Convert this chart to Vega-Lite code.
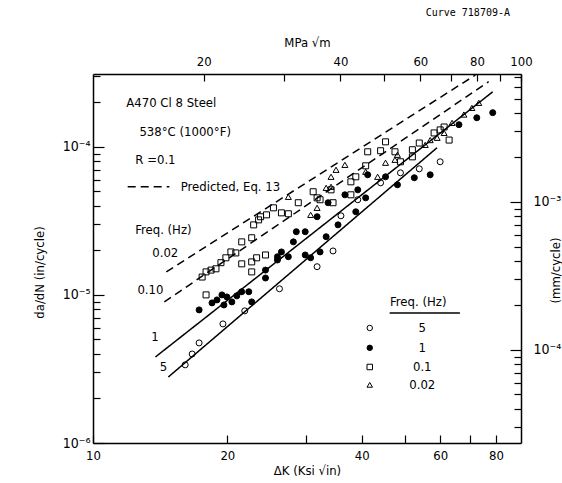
{
  "$schema": "https://vega.github.io/schema/vega-lite/v6.json",
  "width": 428,
  "height": 369,
  "autosize": "none",
  "padding": {"left": 93, "top": 74, "right": 41, "bottom": 40},
  "background": "white",
  "title": {"text": "Curve 718709-A", "anchor": "end", "frame": "group", "font": "DejaVu Sans Mono", "fontSize": 10, "fontWeight": "normal", "color": "black", "dx": -11, "offset": 18},
  "config": {
    "view": {"stroke": null},
    "axis": {"domainColor": "black", "domainWidth": 1.5, "tickColor": "black", "tickWidth": 1.2, "labelColor": "black", "titleColor": "black", "labelFont": "DejaVu Sans Condensed, Liberation Sans, sans-serif", "titleFont": "DejaVu Sans Condensed, Liberation Sans, sans-serif", "labelFontSize": 13, "titleFontSize": 13, "titleFontWeight": "normal", "grid": false, "labelFlush": false, "labelOverlap": false},
    "text": {"font": "DejaVu Sans Condensed, Liberation Sans, sans-serif", "fontSize": 13, "color": "black"}
  },
  "datasets": {
    "pts": [
      {"s": "5", "k": 16.09, "v": 3.37e-6}, {"s": "5", "k": 16.68, "v": 3.99e-6}, {"s": "5", "k": 17.29, "v": 4.74e-6}, {"s": "5", "k": 19.55, "v": 6.37e-6}, {"s": "5", "k": 21.88, "v": 7.8e-6}, {"s": "5", "k": 26.17, "v": 1.1e-5}, {"s": "5", "k": 31.78, "v": 1.55e-5}, {"s": "5", "k": 34.5, "v": 1.98e-5}, {"s": "5", "k": 35.94, "v": 3.42e-5}, {"s": "5", "k": 39.2, "v": 4.39e-5}, {"s": "5", "k": 44.1, "v": 5.71e-5}, {"s": "5", "k": 48.86, "v": 6.67e-5}, {"s": "5", "k": 53.84, "v": 7.1e-5}, {"s": "5", "k": 59.96, "v": 7.92e-5},
      {"s": "1", "k": 17.29, "v": 7.92e-6}, {"s": "1", "k": 18.48, "v": 8.83e-6}, {"s": "1", "k": 18.96, "v": 9.25e-6}, {"s": "1", "k": 19.45, "v": 1.0e-5}, {"s": "1", "k": 19.95, "v": 9.69e-6}, {"s": "1", "k": 20.47, "v": 8.97e-6}, {"s": "1", "k": 21.0, "v": 9.85e-6}, {"s": "1", "k": 21.54, "v": 1.05e-5}, {"s": "1", "k": 22.34, "v": 1.05e-5}, {"s": "1", "k": 19.65, "v": 8.55e-6}, {"s": "1", "k": 22.68, "v": 8.97e-6}, {"s": "1", "k": 24.35, "v": 1.3e-5}, {"s": "1", "k": 24.35, "v": 1.47e-5}, {"s": "1", "k": 25.9, "v": 1.81e-5}, {"s": "1", "k": 27.4, "v": 1.81e-5}, {"s": "1", "k": 29.89, "v": 1.86e-5}, {"s": "1", "k": 30.74, "v": 1.78e-5}, {"s": "1", "k": 32.27, "v": 1.95e-5}, {"s": "1", "k": 26.44, "v": 1.95e-5}, {"s": "1", "k": 25.9, "v": 1.72e-5}, {"s": "1", "k": 28.12, "v": 2.28e-5}, {"s": "1", "k": 28.55, "v": 2.67e-5}, {"s": "1", "k": 29.89, "v": 2.67e-5}, {"s": "1", "k": 31.78, "v": 3.37e-5}, {"s": "1", "k": 33.63, "v": 4.19e-5}, {"s": "1", "k": 33.3, "v": 2.47e-5}, {"s": "1", "k": 35.4, "v": 2.97e-5}, {"s": "1", "k": 38.8, "v": 3.64e-5}, {"s": "1", "k": 40.83, "v": 4.52e-5}, {"s": "1", "k": 36.68, "v": 4.74e-5}, {"s": "1", "k": 39.2, "v": 5.12e-5}, {"s": "1", "k": 41.26, "v": 6.47e-5}, {"s": "1", "k": 45.24, "v": 6.27e-5}, {"s": "1", "k": 48.11, "v": 5.54e-5}, {"s": "1", "k": 52.48, "v": 6.18e-5}, {"s": "1", "k": 56.96, "v": 6.47e-5}, {"s": "1", "k": 66.07, "v": 1.41e-4}, {"s": "1", "k": 72.44, "v": 1.57e-4}, {"s": "1", "k": 78.64, "v": 1.7e-4},
      {"s": "0.1", "k": 17.92, "v": 1.0e-5}, {"s": "0.1", "k": 17.56, "v": 1.32e-5}, {"s": "0.1", "k": 17.92, "v": 1.43e-5}, {"s": "0.1", "k": 18.39, "v": 1.47e-5}, {"s": "0.1", "k": 18.86, "v": 1.5e-5}, {"s": "0.1", "k": 19.35, "v": 1.65e-5}, {"s": "0.1", "k": 19.85, "v": 1.78e-5}, {"s": "0.1", "k": 20.37, "v": 1.95e-5}, {"s": "0.1", "k": 20.89, "v": 1.92e-5}, {"s": "0.1", "k": 21.54, "v": 2.28e-5}, {"s": "0.1", "k": 22.68, "v": 2.43e-5}, {"s": "0.1", "k": 22.91, "v": 2.97e-5}, {"s": "0.1", "k": 23.5, "v": 3.21e-5}, {"s": "0.1", "k": 23.74, "v": 3.37e-5}, {"s": "0.1", "k": 24.48, "v": 3.47e-5}, {"s": "0.1", "k": 25.37, "v": 3.87e-5}, {"s": "0.1", "k": 26.44, "v": 3.58e-5}, {"s": "0.1", "k": 27.4, "v": 3.53e-5}, {"s": "0.1", "k": 31.14, "v": 4.97e-5}, {"s": "0.1", "k": 31.78, "v": 4.52e-5}, {"s": "0.1", "k": 21.54, "v": 1.62e-5}, {"s": "0.1", "k": 22.68, "v": 1.67e-5}, {"s": "0.1", "k": 22.68, "v": 1.43e-5}, {"s": "0.1", "k": 23.26, "v": 1.78e-5}, {"s": "0.1", "k": 24.35, "v": 1.86e-5}, {"s": "0.1", "k": 28.84, "v": 4.19e-5}, {"s": "0.1", "k": 32.27, "v": 4.39e-5}, {"s": "0.1", "k": 34.15, "v": 5.12e-5}, {"s": "0.1", "k": 34.5, "v": 4.19e-5}, {"s": "0.1", "k": 37.83, "v": 5.8e-5}, {"s": "0.1", "k": 37.83, "v": 4.74e-5}, {"s": "0.1", "k": 38.8, "v": 6.27e-5}, {"s": "0.1", "k": 40.83, "v": 7.44e-5}, {"s": "0.1", "k": 41.26, "v": 9.25e-5}, {"s": "0.1", "k": 44.1, "v": 9.4e-5}, {"s": "0.1", "k": 45.24, "v": 1.08e-4}, {"s": "0.1", "k": 47.5, "v": 9.25e-5}, {"s": "0.1", "k": 51.96, "v": 9.55e-5}, {"s": "0.1", "k": 51.96, "v": 8.55e-5}, {"s": "0.1", "k": 48.86, "v": 7.92e-5}, {"s": "0.1", "k": 53.84, "v": 1.06e-4}, {"s": "0.1", "k": 58.13, "v": 1.24e-4}, {"s": "0.1", "k": 59.96, "v": 1.3e-4}, {"s": "0.1", "k": 61.2, "v": 1.36e-4}, {"s": "0.1", "k": 62.8, "v": 1.11e-4},
      {"s": "0.02", "k": 27.4, "v": 4.59e-5}, {"s": "0.02", "k": 30.74, "v": 3.47e-5}, {"s": "0.02", "k": 31.78, "v": 3.87e-5}, {"s": "0.02", "k": 33.3, "v": 5.28e-5}, {"s": "0.02", "k": 34.15, "v": 5.37e-5}, {"s": "0.02", "k": 34.15, "v": 6.27e-5}, {"s": "0.02", "k": 35.04, "v": 6.99e-5}, {"s": "0.02", "k": 36.68, "v": 7.55e-5}, {"s": "0.02", "k": 40.83, "v": 6.78e-5}, {"s": "0.02", "k": 43.43, "v": 6.27e-5}, {"s": "0.02", "k": 45.24, "v": 7.8e-5}, {"s": "0.02", "k": 47.5, "v": 8.17e-5}, {"s": "0.02", "k": 48.11, "v": 8.83e-5}, {"s": "0.02", "k": 55.52, "v": 1.03e-4}, {"s": "0.02", "k": 56.96, "v": 1.11e-4}, {"s": "0.02", "k": 59.04, "v": 1.15e-4}, {"s": "0.02", "k": 61.2, "v": 1.24e-4}, {"s": "0.02", "k": 63.77, "v": 1.45e-4}, {"s": "0.02", "k": 67.78, "v": 1.65e-4}, {"s": "0.02", "k": 70.63, "v": 1.83e-4}, {"s": "0.02", "k": 73.19, "v": 1.98e-4}
    ],
    "lines": [
      {"id": "f1", "kind": "fit", "k": 13.8, "v": 3.81e-6}, {"id": "f1", "kind": "fit", "k": 78.64, "v": 2.35e-4},
      {"id": "f5", "kind": "fit", "k": 14.75, "v": 2.79e-6}, {"id": "f5", "kind": "fit", "k": 59.0, "v": 9.85e-5},
      {"id": "p02", "kind": "predicted", "k": 14.6, "v": 1.43e-5}, {"id": "p02", "kind": "predicted", "k": 71.9, "v": 3.05e-4},
      {"id": "p10", "kind": "predicted", "k": 14.45, "v": 8.97e-6}, {"id": "p10", "kind": "predicted", "k": 77.0, "v": 2.75e-4},
      {"id": "key", "kind": "predicted", "k": 11.96, "v": 5.37e-5}, {"id": "key", "kind": "predicted", "k": 14.83, "v": 5.37e-5},
      {"id": "under", "kind": "fit", "k": 46.2, "v": 7.56e-6}, {"id": "under", "kind": "fit", "k": 66.4, "v": 7.56e-6}
    ],
    "notes": [
      {"t": "A470 Cl 8 Steel", "k": 14.98, "v": 1.98e-4},
      {"t": "538°C (1000°F)", "k": 16.09, "v": 1.26e-4},
      {"t": "R =0.1", "k": 13.8, "v": 8.17e-5},
      {"t": "Predicted, Eq. 13", "k": 20.32, "v": 5.37e-5},
      {"t": "Freq. (Hz)", "k": 14.38, "v": 2.75e-5},
      {"t": "0.02", "k": 14.52, "v": 1.92e-5},
      {"t": "0.10", "k": 13.45, "v": 1.08e-5},
      {"t": "1", "k": 13.77, "v": 5.2e-6},
      {"t": "5", "k": 14.38, "v": 3.26e-6},
      {"t": "Freq. (Hz)", "k": 53.56, "v": 8.97e-6},
      {"t": "5", "k": 54.67, "v": 5.98e-6},
      {"t": "1", "k": 54.67, "v": 4.39e-6},
      {"t": "0.1", "k": 54.67, "v": 3.26e-6},
      {"t": "0.02", "k": 54.67, "v": 2.47e-6}
    ],
    "leg": [
      {"s": "5", "k": 41.7, "v": 5.98e-6},
      {"s": "1", "k": 41.7, "v": 4.39e-6},
      {"s": "0.1", "k": 41.7, "v": 3.26e-6},
      {"s": "0.02", "k": 41.7, "v": 2.47e-6}
    ],
    "sec": [{"mpa": 50, "mm": 0.001}]
  },
  "layer": [
    {
      "encoding": {
        "x": {"field": "k", "type": "quantitative",
          "scale": {"type": "log", "domain": [10, 91]},
          "axis": {"orient": "bottom", "title": "ΔK (Ksi √in)", "values": [10, 20, 30, 40, 50, 60, 70, 80],
            "labelExpr": "indexof([10,20,40,60,80], datum.value) >= 0 ? datum.label : ''",
            "tickSize": -8, "labelPadding": 14, "titlePadding": 2}},
        "y": {"field": "v", "type": "quantitative",
          "scale": {"type": "log", "domain": [1e-6, 3.1e-4]},
          "axis": {"orient": "left", "title": "da/dN (in/cycle)",
            "values": [1e-6, 2e-6, 3e-6, 4e-6, 5e-6, 6e-6, 7e-6, 8e-6, 9e-6, 1e-5, 2e-5, 3e-5, 4e-5, 5e-5, 6e-5, 7e-5, 8e-5, 9e-5, 1e-4, 2e-4, 3e-4],
            "labelExpr": "abs(log(datum.value)/LN10 - round(log(datum.value)/LN10)) > 0.01 ? '' : datum.value < 5e-6 ? '10⁻⁶' : datum.value < 5e-5 ? '10⁻⁵' : '10⁻⁴'",
            "labelFontSize": 14,
            "tickSize": {"condition": {"test": "abs(log(datum.value)/LN10 - round(log(datum.value)/LN10)) < 0.01", "value": -11}, "value": -7},
            "labelPadding": 14, "titlePadding": 16, "titleY": 198}}
      },
      "layer": [
        {"data": {"name": "lines"}, "mark": {"type": "line", "color": "black", "strokeWidth": 1.5, "clip": true},
          "encoding": {"detail": {"field": "id"}, "strokeDash": {"field": "kind", "type": "nominal", "scale": {"domain": ["fit", "predicted"], "range": [[1, 0], [8, 5]]}, "legend": null}}},
        {"data": {"name": "pts"}, "mark": {"type": "point", "filled": true, "opacity": 1, "stroke": "black", "strokeWidth": 1, "size": 36},
          "encoding": {
            "shape": {"field": "s", "type": "nominal", "scale": {"domain": ["5", "1", "0.1", "0.02"], "range": ["circle", "circle", "square", "triangle-up"]}, "legend": null},
            "fill": {"field": "s", "type": "nominal", "scale": {"domain": ["5", "1", "0.1", "0.02"], "range": ["rgba(0,0,0,0)", "black", "rgba(0,0,0,0)", "rgba(0,0,0,0)"]}, "legend": null}}},
        {"data": {"name": "leg"}, "mark": {"type": "point", "filled": true, "opacity": 1, "stroke": "black", "strokeWidth": 1, "size": 30},
          "encoding": {
            "shape": {"field": "s", "type": "nominal", "legend": null},
            "fill": {"field": "s", "type": "nominal", "legend": null}}},
        {"data": {"name": "notes"}, "mark": {"type": "text", "align": "center", "baseline": "middle"},
          "encoding": {"text": {"field": "t"}}}
      ]
    },
    {
      "data": {"name": "sec"},
      "mark": {"type": "point", "opacity": 0},
      "encoding": {
        "x": {"field": "mpa", "type": "quantitative", "scale": {"type": "log", "domain": [11.4, 100]},
          "axis": {"orient": "top", "title": "MPa √m", "values": [20, 30, 40, 50, 60, 70, 80, 90, 100],
            "labelExpr": "indexof([20,40,60,80,100], datum.value) >= 0 ? datum.label : ''",
            "tickSize": -7, "labelPadding": 13, "titlePadding": 6}},
        "y": {"field": "mm", "type": "quantitative", "scale": {"type": "log", "domain": [2.35e-5, 7.33e-3]},
          "axis": {"orient": "right", "title": "(mm/cycle)", "titleAngle": -90,
            "values": [3e-5, 4e-5, 5e-5, 6e-5, 7e-5, 8e-5, 9e-5, 1e-4, 2e-4, 3e-4, 4e-4, 5e-4, 6e-4, 7e-4, 8e-4, 9e-4, 1e-3, 2e-3, 3e-3, 4e-3, 5e-3, 6e-3, 7e-3],
            "labelExpr": "abs(log(datum.value)/LN10 - round(log(datum.value)/LN10)) > 0.01 ? '' : datum.value < 5e-4 ? '10⁻⁴' : '10⁻³'",
            "labelFontSize": 14,
            "tickSize": {"condition": {"test": "abs(log(datum.value)/LN10 - round(log(datum.value)/LN10)) < 0.01", "value": -11}, "value": -7},
            "labelPadding": 23, "titlePadding": 2, "titleY": 196}}
      }
    }
  ],
  "resolve": {"scale": {"x": "independent", "y": "independent"}}
}
